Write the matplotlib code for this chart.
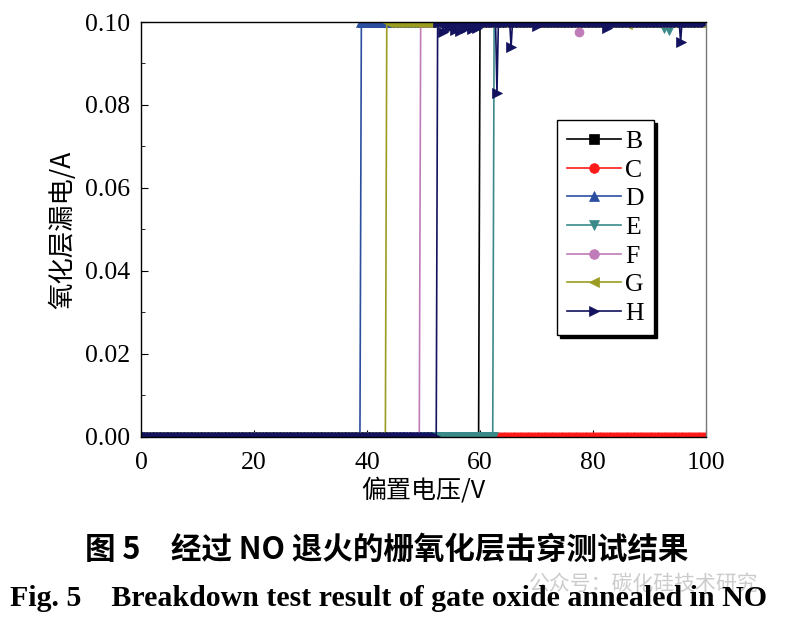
import numpy as np
import matplotlib.pyplot as plt
from matplotlib.ticker import MultipleLocator

plt.rcParams['font.family'] = ['Liberation Serif', 'Noto Sans CJK SC']

# samples and breakdown voltage (V); None = no breakdown
samples = ['B', 'C', 'D', 'E', 'F', 'G', 'H']
breakdown_v = [60.0, None, 39.0, 62.5, 49.5, 43.5, 52.5]
compliance = 0.1  # A

colors = ['#000000', '#ff1a1a', '#2b4f9e', '#3a8a8a', '#c07cb8', '#9c9c22', '#12125e']
markers = ['s', 'o', '^', 'v', 'o', '<', '>']

# small dips of the current after breakdown (bias V, current A)
dips = {
    'E': ([92.5, 93.5], [0.0985, 0.0980]),
    'F': ([77.5], [0.0975]),
    'G': ([86.0], [0.0995]),
    'H': ([53.5, 54.5, 55.5, 56.5, 57.5, 58.5, 59.5, 63.0, 65.5, 70.0, 82.5, 95.5],
          [0.0975, 0.0985, 0.0980, 0.0978, 0.0985, 0.0982, 0.0985, 0.0830, 0.0940,
           0.0990, 0.0985, 0.0952]),
}

bias = np.arange(0, 100.25, 0.25)

fig = plt.figure(figsize=(7.85, 6.18), dpi=100)
ax = fig.add_axes([0.1796, 0.2929, 0.7198, 0.6715])

for name, vbd, c, m in zip(samples, breakdown_v, colors, markers):
    cur = np.zeros_like(bias)
    if vbd is not None:
        cur[bias >= vbd] = compliance
    if name in dips:
        for v, i in zip(*dips[name]):
            cur[np.isclose(bias, v)] = i
    ax.plot(bias, cur, color=c, marker=m, markersize=6.5, linewidth=1.2,
            markeredgewidth=0.5, label=name)

ax.set_xlim(0, 100)
ax.set_ylim(0, 0.1)
ax.xaxis.set_major_locator(MultipleLocator(20))
ax.yaxis.set_major_locator(MultipleLocator(0.02))
ax.yaxis.set_minor_locator(MultipleLocator(0.01))
ax.yaxis.set_major_formatter(plt.FormatStrFormatter('%.2f'))
ax.tick_params(direction='in', labelsize=18.5, length=5)
ax.tick_params(axis='y', pad=8)
ax.tick_params(axis='x', pad=11)
ax.tick_params(which='minor', direction='in', length=3)
ax.tick_params(axis='y', right=False)
ax.spines['right'].set_color('#777777')
for s in ax.spines.values():
    s.set_linewidth(1.0)

ax.set_xlabel('偏置电压/V', family=['Noto Sans CJK SC'], fontsize=18, labelpad=2)
ax.set_ylabel('氧化层漏电/A', family=['Noto Sans CJK SC'], fontsize=19, labelpad=6)

leg = ax.legend(loc='upper left', bbox_to_anchor=(0.736, 0.764), borderaxespad=0,
                fontsize=18.5, handlelength=2.1, handletextpad=0.15,
                labelspacing=0.22, borderpad=0.4, fancybox=False, edgecolor='black',
                shadow={'color': 'black', 'alpha': 1})
leg.get_frame().set_linewidth(1.0)
for h in leg.legend_handles:
    h.set_markersize(7)

fig.text(0.492, 0.111, '图 5　经过 NO 退火的栅氧化层击穿测试结果',
         family=['Noto Sans CJK SC'], fontsize=22, fontweight='bold',
         ha='center', va='center')
fig.text(0.82, 0.055, '公众号：碳化硅技术研究', family=['Noto Sans CJK SC'],
         fontsize=15, color='#cccccc', ha='center', va='center')
fig.text(0.495, 0.032, 'Fig. 5    Breakdown test result of gate oxide annealed in NO',
         fontsize=21.5, fontweight='bold', ha='center', va='center')

fig.savefig('out.png', dpi=100)
